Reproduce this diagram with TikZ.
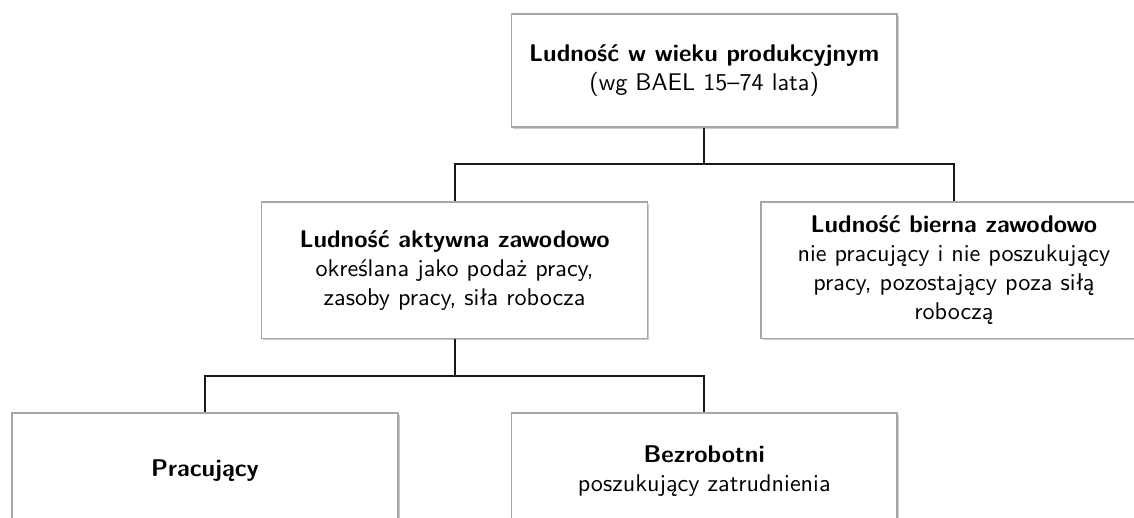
\documentclass[tikz,border=0pt]{standalone}
\usepackage{fontspec}
\usetikzlibrary{shadows}

\begin{document}
\begin{tikzpicture}[
        box/.style={draw=gray!70, line width=0.6pt, fill=white, align=center, font=\sffamily,
            minimum width=5.61cm, inner sep=0pt,
            drop shadow={shadow xshift=0.7pt, shadow yshift=-0.7pt, opacity=0.4}},
        link/.style={line width=0.8pt, color=black!90}]
        \clip (0,0) rectangle (16.49,-7.53);

        \node[box, minimum height=1.64cm] (wiek) at (10.24,-1.025) {\textbf{Ludność w wieku produkcyjnym}\\(wg BAEL 15--74 lata)};

        \node[box, minimum height=1.98cm] (aktywna) at (6.61,-3.93) {\textbf{Ludność aktywna zawodowo}\\określana jako podaż pracy,\\zasoby pracy, siła robocza};
        \node[box, minimum height=1.98cm] (bierna) at (13.87,-3.93) {\textbf{Ludność bierna zawodowo}\\nie pracujący i nie poszukujący\\pracy, pozostający poza siłą\\roboczą};

        \node[box, minimum height=1.69cm] (pracujacy) at (2.98,-6.85) {\textbf{Pracujący}};
        \node[box, minimum height=1.69cm] (bezrobotni) at (10.24,-6.85) {\textbf{Bezrobotni}\\poszukujący zatrudnienia};

        \coordinate (szyna1) at (10.24,-2.39);
        \coordinate (szyna2) at (6.61,-5.47);

        \draw[link] (wiek.south) -- (szyna1);
        \draw[link] (aktywna.north) |- (szyna1) -| (bierna.north);
        \draw[link] (aktywna.south) -- (szyna2);
        \draw[link] (pracujacy.north) |- (szyna2) -| (bezrobotni.north);

\end{tikzpicture}
\end{document}
